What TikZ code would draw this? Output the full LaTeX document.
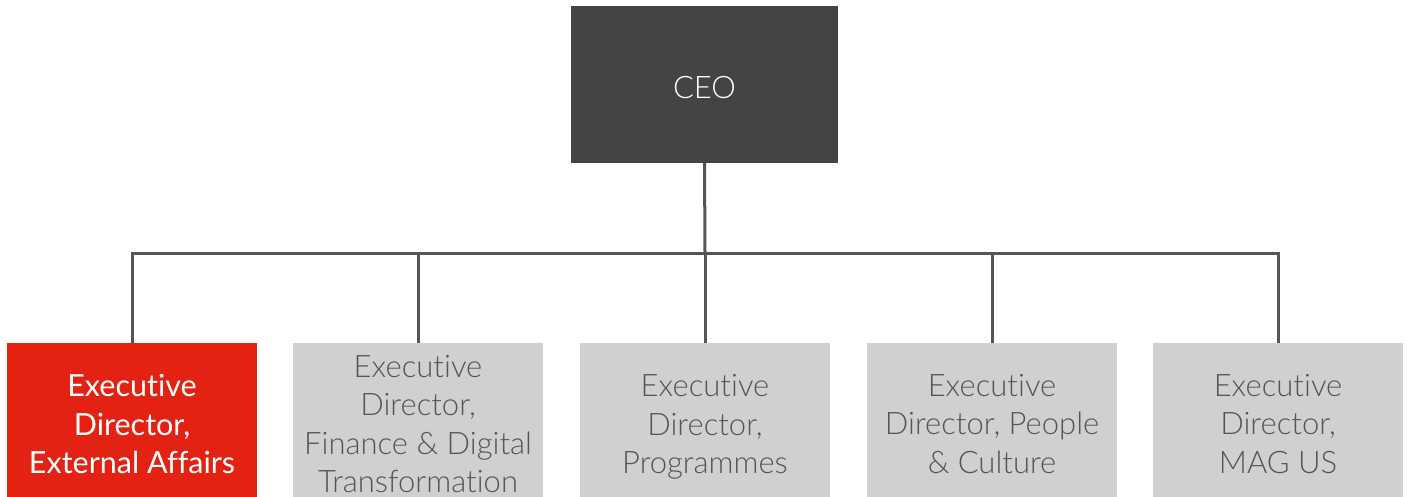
\documentclass[tikz,border=0pt]{standalone}
\usepackage{fontspec}
\setmainfont{Lato}[Ligatures=NoCommon]
\newfontfamily\lightfont{Lato Light}[Ligatures=NoCommon]
\begin{document}
\begin{tikzpicture}[x=1pt,y=-1pt,
  box/.style={rectangle, inner sep=0pt, minimum width=250pt, minimum height=168pt},
  graybox/.style={box, fill=boxgray},
  redbox/.style={box, fill=boxred},
  graytext/.style={inner sep=0pt, align=center, text=txtgray, font=\lightfont\fontsize{31}{38.5}\selectfont},
  redtext/.style={inner sep=0pt, align=center, text=white, font=\fontsize{30.5}{38.5}\selectfont},
  link/.style={draw=linegray, line width=3pt}]
\definecolor{boxgray}{HTML}{D0D0D0}
\definecolor{boxred}{HTML}{E32213}
\definecolor{ceogray}{HTML}{444444}
\definecolor{txtgray}{HTML}{555555}
\definecolor{linegray}{HTML}{555555}
\useasboundingbox (0,0) rectangle (1407,497);
\clip (0,0) rectangle (1407,497);
\node[box, fill=ceogray, text=white, minimum width=267pt, minimum height=157pt, text height=28pt, text depth=0pt, font=\lightfont\fontsize{31}{38.5}\selectfont] (ceo) at (704.5,84.5) {CEO};
\node[redbox] (c1) at (132,427) {};
\node[graybox] (c2) at (418,427) {};
\node[graybox] (c3) at (705,427) {};
\node[graybox] (c4) at (992,427) {};
\node[graybox] (c5) at (1278,427) {};
\node[redtext] (t1) at ([yshift=3pt]c1.center) {Executive\\Director,\\External Affairs};
\node[graytext] (t2) at ([yshift=3pt]c2.center) {Executive\\Director,\\Finance \& Digital\\Transformation};
\node[graytext] (t3) at (c3.center) {Executive\\Director,\\Programmes};
\node[graytext] (t4) at ([yshift=3pt]c4.center) {Executive\\Director, People\\\& Culture};
\node[graytext] (t5) at ([yshift=3pt]c5.center) {Executive\\Director,\\MAG US};
\coordinate (bus) at (705,253);
\draw[link] (ceo.south) -- (bus);
\draw[link] (c1.north) |- (bus) -| (c5.north);
\draw[link] (c2.north) -- (c2.north |- bus);
\draw[link] (c3.north) -- (bus);
\draw[link] (c4.north) -- (c4.north |- bus);
\end{tikzpicture}
\end{document}
